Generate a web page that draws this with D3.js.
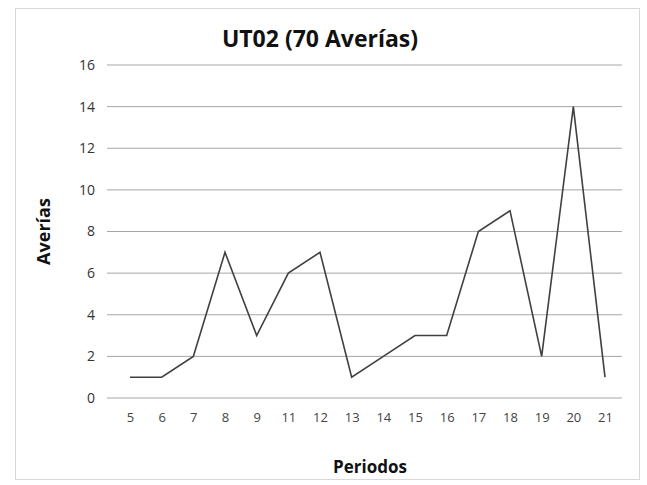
<!DOCTYPE html>
<html>
<head>
<meta charset="utf-8">
<script src="https://cdn.jsdelivr.net/npm/d3@7"></script>
<style>
  body { margin: 0; background: #fff; }
  svg { font-family: "Open Sans", "Noto Sans", sans-serif; }
</style>
</head>
<body>
<div id="chart"></div>
<script>
// periods shown on the x axis (10 is missing in the original)
const periodos = ['5', '6', '7', '8', '9', '11', '12', '13', '14', '15', '16', '17', '18', '19', '20', '21'];
const averias = [1, 1, 2, 7, 3, 6, 7, 1, 2, 3, 3, 8, 9, 2, 14, 1];
const yTicks = [0, 2, 4, 6, 8, 10, 12, 14, 16];

const width = 647, height = 485;
const margin = { top: 65, right: 25, bottom: 87, left: 113 };

const svg = d3.select('#chart').append('svg')
  .attr('width', width)
  .attr('height', height);

// frame of the chart area
svg.append('rect')
  .attr('x', 15.5).attr('y', 8.5)
  .attr('width', 624).attr('height', 471)
  .attr('fill', '#fff')
  .attr('stroke', '#d9d9d9');

const x = d3.scalePoint()
  .domain(periodos)
  .range([margin.left + 17, width - margin.right - 17]);

const y = d3.scaleLinear()
  .domain([0, 16])
  .range([height - margin.bottom, margin.top]);

// grid
svg.append('g')
  .selectAll('line')
  .data(yTicks)
  .join('line')
  .attr('x1', margin.left - 6)
  .attr('x2', width - margin.right)
  .attr('y1', d => y(d))
  .attr('y2', d => y(d))
  .attr('stroke', '#a6a6a6')
  .attr('stroke-width', 1);

// y axis labels
const yAxis = svg.append('g')
  .attr('transform', `translate(${margin.left - 18},0)`)
  .call(d3.axisLeft(y).tickValues(yTicks).tickSize(0).tickPadding(0));
yAxis.select('.domain').remove();
yAxis.selectAll('text')
  .style('font-size', '14px')
  .style('fill', '#333')
  .style('font-family', '"Open Sans", sans-serif');

// x axis labels
const xAxis = svg.append('g')
  .attr('transform', `translate(0,${y(0) + 15})`)
  .call(d3.axisBottom(x).tickSize(0).tickPadding(0));
xAxis.select('.domain').remove();
xAxis.selectAll('text')
  .style('font-size', '13px')
  .style('fill', '#444')
  .style('font-family', '"Open Sans", sans-serif');

// series
const line = d3.line()
  .x((d, i) => x(periodos[i]))
  .y(d => y(d));

svg.append('path')
  .datum(averias)
  .attr('d', line)
  .attr('fill', 'none')
  .attr('stroke', '#404040')
  .attr('stroke-width', 1.6)
  .attr('stroke-linejoin', 'miter');

// titles
svg.append('text')
  .attr('x', 320).attr('y', 47)
  .attr('text-anchor', 'middle')
  .style('font-size', '23px')
  .style('font-weight', 'bold')
  .style('fill', '#111')
  .text('UT02 (70 Averías)');

svg.append('text')
  .attr('transform', `translate(50,${(y(0) + y(16)) / 2}) rotate(-90)`)
  .attr('text-anchor', 'middle')
  .style('font-size', '18px')
  .style('font-weight', 'bold')
  .style('fill', '#111')
  .text('Averías');

svg.append('text')
  .attr('x', 370).attr('y', 473)
  .attr('text-anchor', 'middle')
  .style('font-size', '17px')
  .style('font-weight', 'bold')
  .style('fill', '#111')
  .text('Periodos');
</script>
</body>
</html>
